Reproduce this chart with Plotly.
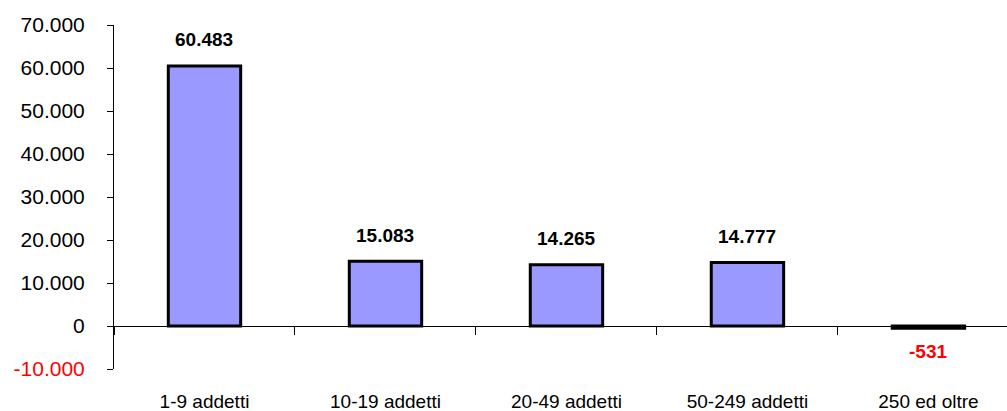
import plotly.graph_objects as go

# Saldo per classe dimensionale d'impresa
categories = ["1-9 addetti", "10-19 addetti", "20-49 addetti", "50-249 addetti", "250 ed oltre"]
values = [60483, 15083, 14265, 14777, -531]
label_text = ["60.483", "15.083", "14.265", "14.777", "-531"]

y_tickvals = [-10000, 0, 10000, 20000, 30000, 40000, 50000, 60000, 70000]
y_ticktext = ["<span style='color:#ff0000'>-10.000</span>", "0", "10.000", "20.000",
              "30.000", "40.000", "50.000", "60.000", "70.000"]

FONT = "Liberation Sans, Arial, sans-serif"

fig = go.Figure()
fig.add_trace(go.Bar(
    x=categories,
    y=values,
    width=0.4,
    marker=dict(color="#9999ff", line=dict(color="#000000", width=3)),
    hoverinfo="skip",
))

# Value labels above positive bars, below negative ones
for cat, val, txt in zip(categories, values, label_text):
    neg = val < 0
    fig.add_annotation(
        x=cat, y=val, text=f"<b>{txt}</b>", showarrow=False,
        yanchor="middle", yshift=-23 if neg else 26,
        font=dict(family=FONT, size=19, color="#ff0000" if neg else "#000000"),
    )

fig.update_layout(
    width=1007, height=411,
    margin=dict(l=114, r=0, t=25, b=42),
    paper_bgcolor="white", plot_bgcolor="white",
    showlegend=False,
    separators=",.",
    font=dict(family=FONT, color="#000000"),
    xaxis=dict(
        type="category",
        range=[-0.5, 4.434],
        anchor="free", position=0.125,
        showline=True, linecolor="#000000", linewidth=1,
        tickson="boundaries", ticks="outside", ticklen=8, tickcolor="#000000",
        ticklabelstandoff=58,
        showgrid=False, zeroline=False,
        tickfont=dict(family=FONT, size=19, color="#000000"),
    ),
    yaxis=dict(
        range=[-10000, 70000],
        tickvals=y_tickvals, ticktext=y_ticktext,
        showline=True, linecolor="#000000", linewidth=1,
        ticks="outside", ticklen=6, tickcolor="#000000",
        ticklabelstandoff=18,
        showgrid=False,
        zeroline=True, zerolinecolor="#000000", zerolinewidth=1,
        tickfont=dict(family=FONT, size=21, color="#000000"),
    ),
)

fig.write_html("out.html")
